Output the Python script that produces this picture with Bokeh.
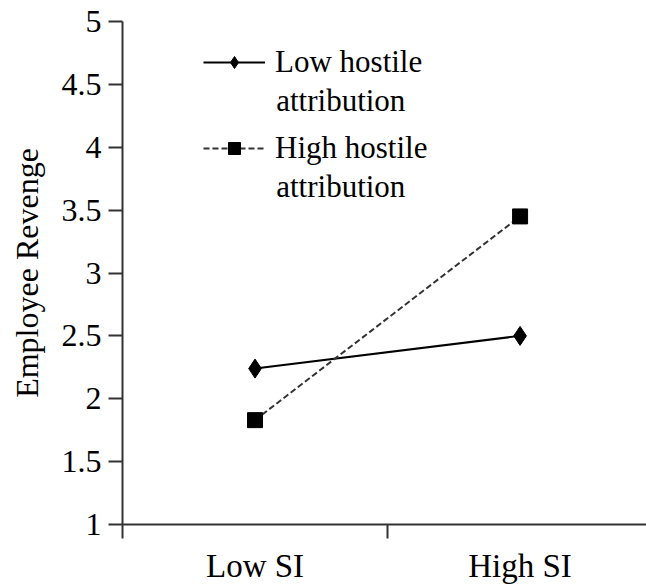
from bokeh.plotting import figure
from bokeh.models import FixedTicker, Legend, LegendItem, Range1d, Label
from bokeh.embed import file_html
from bokeh.resources import INLINE

# ---- data ----
categories = ["Low SI", "High SI"]
cat_pos = [0.5, 1.5]
low_hostile = [2.24, 2.50]
high_hostile = [1.83, 3.45]
y_ticks = [1, 1.5, 2, 2.5, 3, 3.5, 4, 4.5, 5]
y_tick_labels = ["1", "1.5", "2", "2.5", "3", "3.5", "4", "4.5", "5"]
series_names = [("Low hostile", "attribution"), ("High hostile", "attribution")]

FONT = "Liberation Serif"

p = figure(width=646, height=586, output_backend="svg", toolbar_location=None,
           x_range=Range1d(0, 1.977), y_range=Range1d(1, 5),
           min_border_left=122, min_border_right=0, min_border_top=21,
           min_border_bottom=57)
p.outline_line_color = None
p.xgrid.visible = False
p.ygrid.visible = False
p.background_fill_color = "white"
p.border_fill_color = "white"

r1 = p.line(cat_pos, low_hostile, line_color="black", line_width=2)
m1 = p.scatter(cat_pos, low_hostile, marker="diamond", size=19,
               fill_color="black", line_color="black")
r2 = p.line(cat_pos, high_hostile, line_color="#333333", line_width=2,
            line_dash="6 3")
m2 = p.scatter(cat_pos, high_hostile, marker="square", size=15,
               fill_color="black", line_color="black")

# x axis
xa = p.xaxis[0]
xa.ticker = FixedTicker(ticks=cat_pos, minor_ticks=[0, 1, 2])
xa.major_label_overrides = {0.5: categories[0], 1.5: categories[1]}
xa.major_tick_line_color = None
xa.minor_tick_in = 0
xa.minor_tick_out = 14
xa.minor_tick_line_color = "#333333"
xa.minor_tick_line_width = 2
xa.axis_line_color = "#333333"
xa.axis_line_width = 2
xa.major_label_text_font = FONT
xa.major_label_text_font_size = "33px"
xa.major_label_text_color = "black"
xa.major_label_standoff = 9

# y axis
ya = p.yaxis[0]
ya.ticker = FixedTicker(ticks=y_ticks)
ya.major_label_overrides = {t: l for t, l in zip(y_ticks, y_tick_labels)}
ya.minor_tick_line_color = None
ya.major_tick_in = 0
ya.major_tick_out = 14
ya.major_tick_line_color = "#333333"
ya.major_tick_line_width = 2
ya.axis_line_color = "#333333"
ya.axis_line_width = 2
ya.major_label_text_font = FONT
ya.major_label_text_font_size = "32px"
ya.major_label_text_color = "black"
ya.major_label_standoff = 7
ya.axis_label = "Employee Revenge"
ya.axis_label_text_font = FONT
ya.axis_label_text_font_size = "32px"
ya.axis_label_text_font_style = "normal"
ya.axis_label_text_color = "black"
ya.axis_label_standoff = 14

# legend (one per entry so the marker aligns with the first text line)
for i, (rend, mark, (l1, l2)) in enumerate([(r1, m1, series_names[0]),
                                           (r2, m2, series_names[1])]):
    leg = Legend(items=[LegendItem(label=l1, renderers=[rend, mark])],
                 location=(81, 444 - 86 * i),
                 glyph_width=62, glyph_height=30, label_height=30,
                 label_standoff=10, padding=0, margin=0, spacing=0,
                 border_line_color=None, background_fill_alpha=0,
                 label_text_font=FONT, label_text_font_size="31px",
                 label_text_color="black", label_text_baseline="middle")
    p.add_layout(leg, "center")
    p.add_layout(Label(x=0.58, y=4.37 - 0.68 * i, text=l2,
                       text_font=FONT, text_font_size="31px",
                       text_color="black", text_baseline="middle"))

open("out.html", "w").write(file_html(p, INLINE))
